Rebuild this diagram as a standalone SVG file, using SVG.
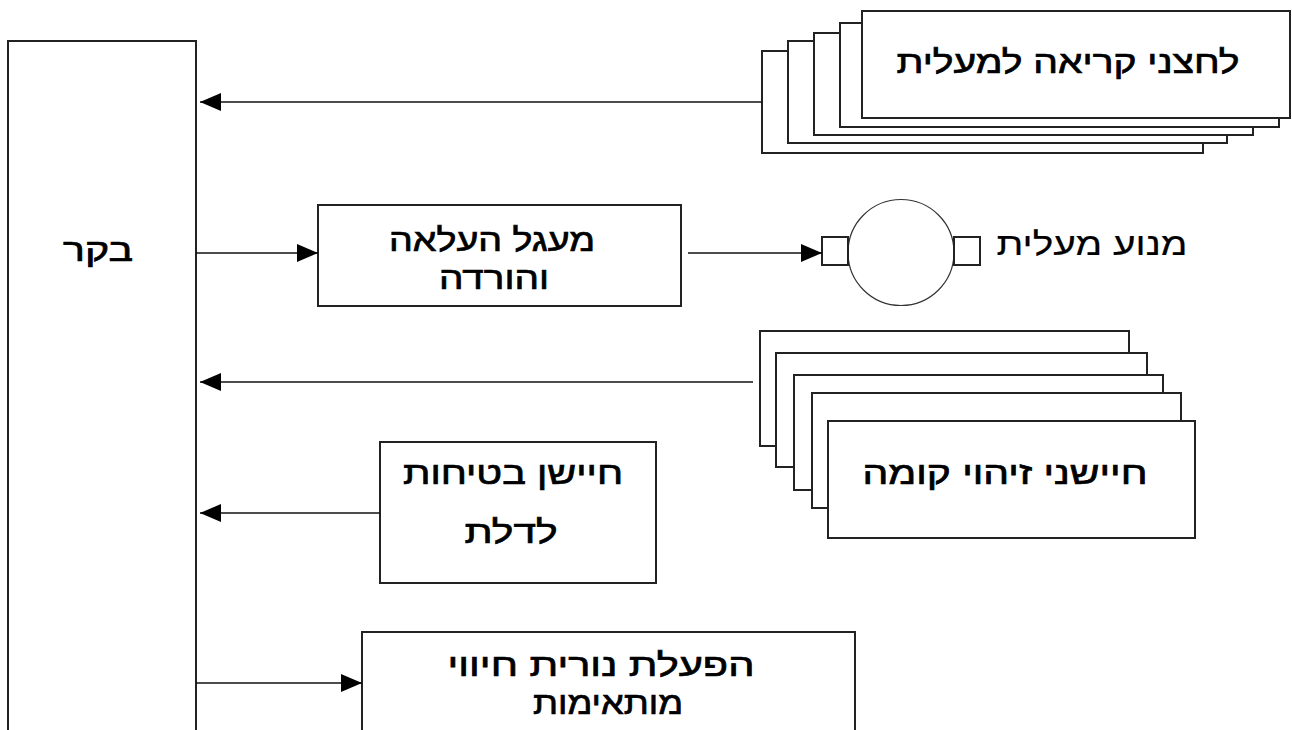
<svg xmlns="http://www.w3.org/2000/svg" width="1292" height="730" viewBox="0 0 1292 730">
<defs>
<style>
.box{fill:#fff;stroke:#222;stroke-width:2}
.ln{fill:none;stroke:#111;stroke-width:1.6}
.t{font-family:"Liberation Sans","DejaVu Sans",sans-serif;font-size:32px;fill:#000;stroke:#000;stroke-width:0.7;text-anchor:middle}
.n{stroke-width:0.2}
.c{fill:#fff;stroke:#333;stroke-width:1.2}
</style>
<marker id="ah" markerUnits="userSpaceOnUse" markerWidth="22" markerHeight="20" refX="21" refY="10" orient="auto">
<path d="M0,1 L21,10 L0,19 Z" fill="#000"/>
</marker>
</defs>
<rect width="1292" height="730" fill="#fff"/>
<g id="controller">
<rect class="box" x="8" y="41" width="188" height="690"/>
<text class="t" x="98" y="261" textLength="70" lengthAdjust="spacingAndGlyphs">בקר</text>
</g>
<g id="call-buttons">
<rect class="box" x="762" y="51" width="441" height="102"/>
<rect class="box" x="788" y="41" width="439" height="102"/>
<rect class="box" x="814" y="33" width="439" height="102"/>
<rect class="box" x="840" y="23" width="439" height="104"/>
<rect class="box" x="862" y="11" width="428" height="107"/>
<text class="t" x="1068" y="73" textLength="343" lengthAdjust="spacingAndGlyphs">לחצני קריאה למעלית</text>
</g>
<g id="motor-driver">
<rect class="box" x="318" y="205" width="363" height="101"/>
<text class="t" x="492" y="251" textLength="206" lengthAdjust="spacingAndGlyphs">מעגל העלאה</text>
<text class="t" x="494" y="289" textLength="110" lengthAdjust="spacingAndGlyphs">והורדה</text>
</g>
<g id="motor">
<circle class="c" cx="901" cy="252.5" r="53"/>
<rect class="box" x="822" y="237" width="26" height="28" stroke-width="1.5"/>
<rect class="box" x="954" y="237" width="26" height="28" stroke-width="1.5"/>
<text class="t n" x="1092" y="255" textLength="191" lengthAdjust="spacingAndGlyphs">מנוע מעלית</text>
</g>
<g id="floor-sensors">
<rect class="box" x="760" y="331" width="369" height="115"/>
<rect class="box" x="776" y="353" width="371" height="114"/>
<rect class="box" x="794" y="375" width="369" height="115"/>
<rect class="box" x="812" y="393" width="369" height="115"/>
<rect class="box" x="828" y="421" width="367" height="117"/>
<text class="t" x="1005" y="484" textLength="285" lengthAdjust="spacingAndGlyphs">חיישני זיהוי קומה</text>
</g>
<g id="door-sensor">
<rect class="box" x="380" y="442" width="276" height="141"/>
<text class="t" x="513" y="484" textLength="220" lengthAdjust="spacingAndGlyphs">חיישן בטיחות</text>
<text class="t" x="511" y="543" textLength="93" lengthAdjust="spacingAndGlyphs">לדלת</text>
</g>
<g id="indicator-lights">
<rect class="box" x="362" y="632" width="493" height="110"/>
<text class="t" x="601" y="676" textLength="307" lengthAdjust="spacingAndGlyphs">הפעלת נורית חיווי</text>
<text class="t" x="608" y="714" textLength="150" lengthAdjust="spacingAndGlyphs">מותאימות</text>
</g>
<g id="connectors">
<line class="ln" x1="762" y1="102" x2="200" y2="102" marker-end="url(#ah)"/>
<line class="ln" x1="196" y1="253" x2="318" y2="253" marker-end="url(#ah)"/>
<line class="ln" x1="688" y1="253" x2="822" y2="253" marker-end="url(#ah)"/>
<line class="ln" x1="753" y1="382" x2="200" y2="382" marker-end="url(#ah)"/>
<line class="ln" x1="380" y1="513" x2="200" y2="513" marker-end="url(#ah)"/>
<line class="ln" x1="196" y1="683" x2="362" y2="683" marker-end="url(#ah)"/>
</g>
</svg>
